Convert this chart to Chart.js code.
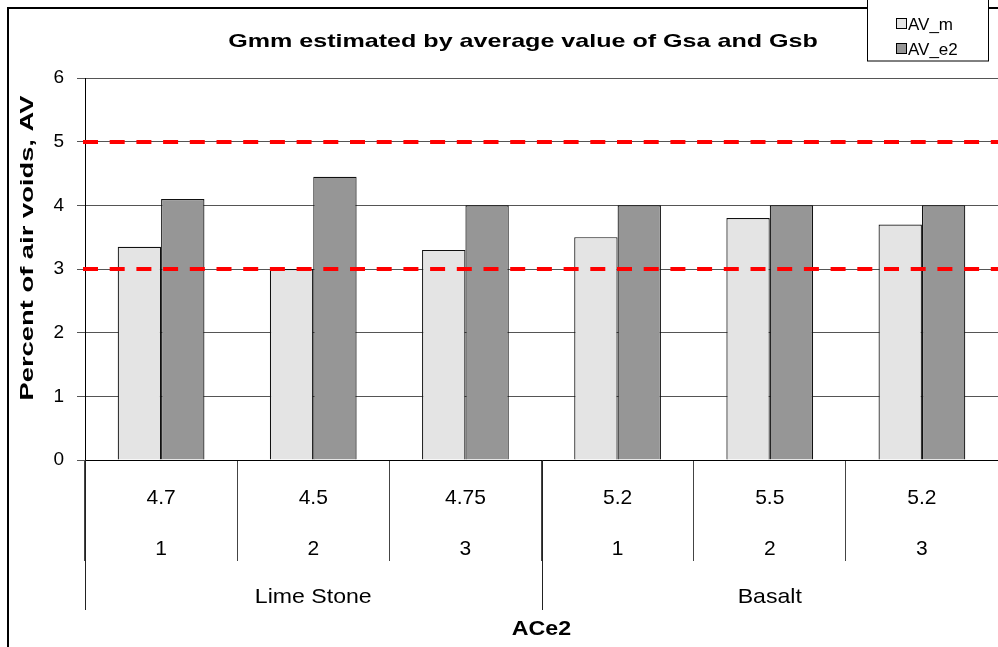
<!DOCTYPE html>
<html>
<head>
<meta charset="utf-8">
<script src="https://cdn.jsdelivr.net/npm/chart.js@4"></script>
<style>
  html, body { margin: 0; padding: 0; background: #fff; }
  #wrap { width: 998px; height: 647px; position: relative; }
</style>
</head>
<body>
<div id="wrap"><canvas id="myChart"></canvas></div>
<script>
// chart values
const materials = ['Lime Stone', 'Basalt'];
const specimens = ['1', '2', '3', '1', '2', '3'];
const binderContent = ['4.7', '4.5', '4.75', '5.2', '5.5', '5.2'];
const avM = [3.35, 3.0, 3.3, 3.5, 3.8, 3.7];
const avE2 = [4.1, 4.45, 4.0, 4.0, 4.0, 4.0];
const limitLines = [3, 5];
const yMin = 0, yMax = 6, yStep = 1;

const chartTitle = 'Gmm estimated by average value of Gsa and Gsb';
const yTitle = 'Percent of air voids, AV';
const xTitle = 'ACe2';

const FONT = "'Liberation Sans', Arial, sans-serif";
const groupSize = specimens.length / materials.length;

// text a bit wider than the font, like the original picture
function wideText(ctx, text, x, y, stretch, angle) {
    ctx.save();
    ctx.translate(x, y);
    if (angle) ctx.rotate(angle);
    ctx.scale(stretch, 1);
    ctx.fillText(text, 0, 0);
    ctx.restore();
}

// titles, legend box, frame, red limits, group labels
const extras = {
    id: 'extras',
    afterDatasetsDraw(chart) {
        const ctx = chart.ctx;
        const y = chart.scales.y;
        const a = chart.chartArea;
        ctx.save();
        ctx.strokeStyle = '#ff0000';
        ctx.lineWidth = 4;
        ctx.setLineDash([15, 11.7]);
        limitLines.forEach(v => {
            const py = Math.round(y.getPixelForValue(v));
            ctx.beginPath();
            ctx.moveTo(a.left - 2, py);
            ctx.lineTo(a.right, py);
            ctx.stroke();
        });
        ctx.restore();
    },
    afterDraw(chart) {
        const ctx = chart.ctx;
        const x = chart.scales.x;
        const a = chart.chartArea;
        ctx.save();

        // outer frame
        ctx.strokeStyle = '#000';
        ctx.lineWidth = 2;
        ctx.strokeRect(8, 8, 1200, 1200);

        // long separators between material groups
        ctx.strokeStyle = '#222';
        ctx.lineWidth = 1;
        const half = (x.getPixelForValue(1) - x.getPixelForValue(0)) / 2;
        for (let g = 0; g < materials.length; g++) {
            const px = Math.round(x.getPixelForValue(g * groupSize) - half) + 0.5;
            ctx.beginPath();
            ctx.moveTo(px, a.bottom);
            ctx.lineTo(px, 610);
            ctx.stroke();
        }

        // material labels
        ctx.fillStyle = '#000';
        ctx.font = '21px ' + FONT;
        ctx.textAlign = 'center';
        ctx.textBaseline = 'middle';
        materials.forEach((m, g) => {
            const first = x.getPixelForValue(g * groupSize);
            const last = x.getPixelForValue(g * groupSize + groupSize - 1);
            wideText(ctx, m, (first + last) / 2, 597, 1.1);
        });

        // titles
        ctx.font = 'bold 19px ' + FONT;
        wideText(ctx, chartTitle, 523, 42, 1.32);
        ctx.font = 'bold 20px ' + FONT;
        wideText(ctx, xTitle, (a.left + a.right) / 2, 629, 1.16);
        ctx.font = 'bold 19px ' + FONT;
        wideText(ctx, yTitle, 28, 248, 1.44, -Math.PI / 2);

        // legend
        ctx.fillStyle = '#fff';
        ctx.fillRect(867.5, -2, 121, 63);
        ctx.strokeStyle = '#000';
        ctx.strokeRect(867.5, -2, 121, 63);
        ctx.font = '17px ' + FONT;
        ctx.textAlign = 'left';
        chart.data.datasets.forEach((ds, i) => {
            const cy = 24 + i * 25;
            ctx.fillStyle = ds.backgroundColor;
            ctx.fillRect(896.5, cy - 5.5, 10, 10);
            ctx.strokeStyle = '#000';
            ctx.strokeRect(896.5, cy - 5.5, 10, 10);
            ctx.fillStyle = '#000';
            ctx.fillText(ds.label, 908, cy + 1);
        });
        ctx.restore();
    }
};

const ctx = document.getElementById('myChart').getContext('2d');
const myChart = new Chart(ctx, {
    type: 'bar',
    data: {
        labels: binderContent.map((b, i) => [b, specimens[i]]),
        datasets: [{
            label: 'AV_m',
            data: avM,
            backgroundColor: '#e4e4e4',
            borderColor: '#111',
            borderWidth: 1.2
        }, {
            label: 'AV_e2',
            data: avE2,
            backgroundColor: '#969696',
            borderColor: '#111',
            borderWidth: 1.2
        }]
    },
    options: {
        responsive: true,
        maintainAspectRatio: false,
        animation: false,
        layout: { padding: { left: 8, top: 78, right: -5, bottom: 0 } },
        plugins: {
            legend: { display: false },
            title: { display: false },
            tooltip: { enabled: false }
        },
        datasets: {
            bar: { categoryPercentage: 0.57, barPercentage: 1 }
        },
        scales: {
            x: {
                afterFit(scale) { scale.height = 187; },
                grid: {
                    offset: true,
                    drawOnChartArea: false,
                    tickLength: 101,
                    color: '#444'
                },
                border: { color: '#000', width: 1 },
                ticks: {
                    color: '#000',
                    font: { family: FONT, size: 21, lineHeight: 2.43 },
                    padding: -88,
                    maxRotation: 0,
                    autoSkip: false
                }
            },
            y: {
                min: yMin,
                max: yMax,
                afterFit(scale) { scale.width = 77; },
                grid: { color: '#555', tickLength: 8 },
                border: { color: '#000', width: 1 },
                ticks: {
                    stepSize: yStep,
                    color: '#000',
                    padding: 13,
                    font: { family: FONT, size: 19 }
                }
            }
        }
    },
    plugins: [extras]
});
</script>
</body>
</html>
